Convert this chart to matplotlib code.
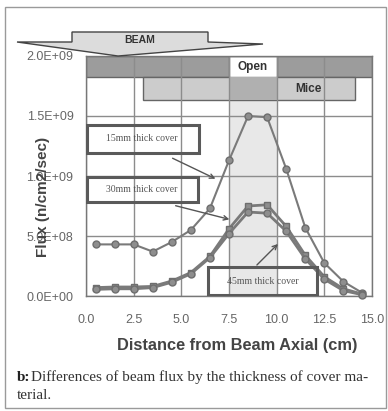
import matplotlib
matplotlib.use("Agg")
import matplotlib.pyplot as plt
from matplotlib.patches import Rectangle, Polygon

# ---- data ----
distance = [0.5, 1.5, 2.5, 3.5, 4.5, 5.5, 6.5, 7.5, 8.5, 9.5, 10.5, 11.5, 12.5, 13.5, 14.5]
flux_15mm = [4.3e8, 4.3e8, 4.3e8, 3.7e8, 4.5e8, 5.5e8, 7.3e8, 1.13e9, 1.50e9, 1.49e9,
             1.06e9, 5.7e8, 2.75e8, 1.2e8, 2.5e7]
flux_30mm = [7.0e7, 7.5e7, 7.5e7, 8.0e7, 1.25e8, 1.95e8, 3.3e8, 5.6e8, 7.5e8, 7.6e8,
             5.8e8, 3.4e8, 1.6e8, 6.0e7, 1.5e7]
flux_45mm = [5.5e7, 6.0e7, 6.0e7, 7.0e7, 1.15e8, 1.85e8, 3.2e8, 5.2e8, 7.0e8, 6.9e8,
             5.4e8, 3.1e8, 1.4e8, 4.5e7, 1.0e7]
x_ticks = [0.0, 2.5, 5.0, 7.5, 10.0, 12.5, 15.0]
x_tick_labels = ["0.0", "2.5", "5.0", "7.5", "10.0", "12.5", "15.0"]
y_ticks = [0, 5e8, 1e9, 1.5e9, 2e9]
y_tick_labels = ["0.0E+00", "5.0E+08", "1.0E+09", "1.5E+09", "2.0E+09"]

W, H = 388, 411
fig = plt.figure(figsize=(W / 100, H / 100), dpi=100)
fig.patch.set_facecolor("white")

def fx(x):
    return x / W

def fy(y):
    return 1 - y / H

# overlay for decorations in pixel coordinates
ov = fig.add_axes([0, 0, 1, 1], zorder=-5)
ov.set_xlim(0, W)
ov.set_ylim(H, 0)
ov.axis("off")
ov.add_patch(Rectangle((5, 7), 381, 401, fill=False, edgecolor="#9a9a9a", lw=1))

ax = fig.add_axes([fx(86), fy(296), (372 - 86) / W, (296 - 56) / H])
ax.set_xlim(0, 15)
ax.set_ylim(0, 2e9)
ax.set_facecolor("none")

# shaded "open" stripe
ax.add_patch(Rectangle((7.5, 0), 2.5, 1.633e9, facecolor="#e8e8e8", edgecolor="none", zorder=0.2))
# Open band
ax.add_patch(Rectangle((0, 1.825e9), 15, 0.175e9, facecolor="#9c9c9c", edgecolor="#666666", lw=1, zorder=0.3))
ax.add_patch(Rectangle((7.5, 1.825e9), 2.5, 0.175e9, facecolor="white", edgecolor="#666666", lw=1, zorder=0.35))
ax.text(8.75, 1.912e9, "Open", ha="center", va="center", fontsize=8.5, fontweight="bold",
        family="Liberation Sans", color="#333333", zorder=3)
# Mice band
ax.add_patch(Rectangle((3.0, 1.633e9), 11.1, 0.192e9, facecolor="#cccccc", edgecolor="#666666", lw=1, zorder=0.3))
ax.add_patch(Rectangle((7.5, 1.633e9), 2.5, 0.192e9, facecolor="#b0b0b0", edgecolor="none", zorder=0.35))
ax.text(11.65, 1.729e9, "Mice", ha="center", va="center", fontsize=8.5, fontweight="bold",
        family="Liberation Sans", color="#333333", zorder=3)

ax.set_axisbelow(True)
ax.grid(True, color="#8c8c8c", lw=1)
for s in ax.spines.values():
    s.set_color("#777777")
    s.set_linewidth(1)

ax.set_xticks(x_ticks)
ax.set_xticklabels(x_tick_labels)
ax.set_yticks(y_ticks)
ax.set_yticklabels(y_tick_labels)
ax.tick_params(length=0, labelsize=9, labelcolor="#666666")
for t in ax.get_xticklabels() + ax.get_yticklabels():
    t.set_family("Liberation Sans")
ax.tick_params(axis="y", pad=9)
ax.tick_params(axis="x", pad=13)

line_kw = dict(color="#7a7a7a", markerfacecolor="#8e8e8e", markeredgecolor="#6e6e6e",
               markersize=5, zorder=4, clip_on=False)
ax.plot(distance, flux_15mm, marker="o", lw=1.5, **line_kw)
ax.plot(distance, flux_30mm, marker="s", lw=2, **line_kw)
ax.plot(distance, flux_45mm, marker="o", lw=2, **line_kw)

# annotation boxes and arrows
box_kw = dict(fill=False, edgecolor="#5a5a5a", lw=2.2, zorder=5)
ax.add_patch(Rectangle((0.05, 1.19e9), 5.88, 0.235e9, **box_kw))
ax.text(2.95, 1.31e9, "15mm thick cover", ha="center", va="center", fontsize=7,
        family="Liberation Serif", color="#555555", zorder=5)
ax.add_patch(Rectangle((0.05, 0.783e9), 5.83, 0.209e9, **box_kw))
ax.text(2.9, 0.89e9, "30mm thick cover", ha="center", va="center", fontsize=7,
        family="Liberation Serif", color="#555555", zorder=5)
ax.add_patch(Rectangle((6.4, 0.01e9), 5.72, 0.232e9, **box_kw))
ax.text(9.26, 0.125e9, "45mm thick cover", ha="center", va="center", fontsize=7,
        family="Liberation Serif", color="#555555", zorder=5)

arrow_kw = dict(arrowstyle="->", color="#555555", lw=1, mutation_scale=8)
ax.annotate("", xy=(6.92, 0.967e9), xytext=(4.41, 1.158e9), arrowprops=arrow_kw, zorder=5)
ax.annotate("", xy=(7.66, 0.633e9), xytext=(4.56, 0.758e9), arrowprops=arrow_kw, zorder=5)
ax.annotate("", xy=(10.17, 0.45e9), xytext=(8.86, 0.242e9), arrowprops=arrow_kw, zorder=5)

# BEAM arrow (decoration)
top = fig.add_axes([0, 0, 1, 1], zorder=5)
top.set_xlim(0, W)
top.set_ylim(H, 0)
top.axis("off")
beam = [(72, 32), (208, 32), (208, 42), (263, 44), (118, 56), (17, 42), (72, 42)]
top.add_patch(Polygon(beam, closed=True, facecolor="#dcdcdc", edgecolor="#444444", lw=1))
top.text(140, 40, "BEAM", ha="center", va="center", fontsize=7.5, fontweight="bold",
         family="Liberation Sans", color="#333333")

# axis labels
fig.text(fx(237), fy(345), "Distance from Beam Axial (cm)", ha="center", va="center",
         fontsize=11.8, fontweight="bold", family="Liberation Sans", color="#444444")
fig.text(fx(43), fy(197), "Flux (n/cm2/sec)", ha="center", va="center", rotation=90,
         fontsize=11, fontweight="bold", family="Liberation Sans", color="#444444")

# caption
fig.text(fx(17), fy(377), "b:", ha="left", va="center", fontsize=11, fontweight="bold",
         family="Liberation Serif", color="#222222")
fig.text(fx(31), fy(377), "Differences of beam flux by the thickness of cover ma-",
         ha="left", va="center", fontsize=11, family="Liberation Serif", color="#333333")
fig.text(fx(17), fy(395), "terial.", ha="left", va="center", fontsize=11,
         family="Liberation Serif", color="#333333")

fig.savefig("out.png", dpi=100)
